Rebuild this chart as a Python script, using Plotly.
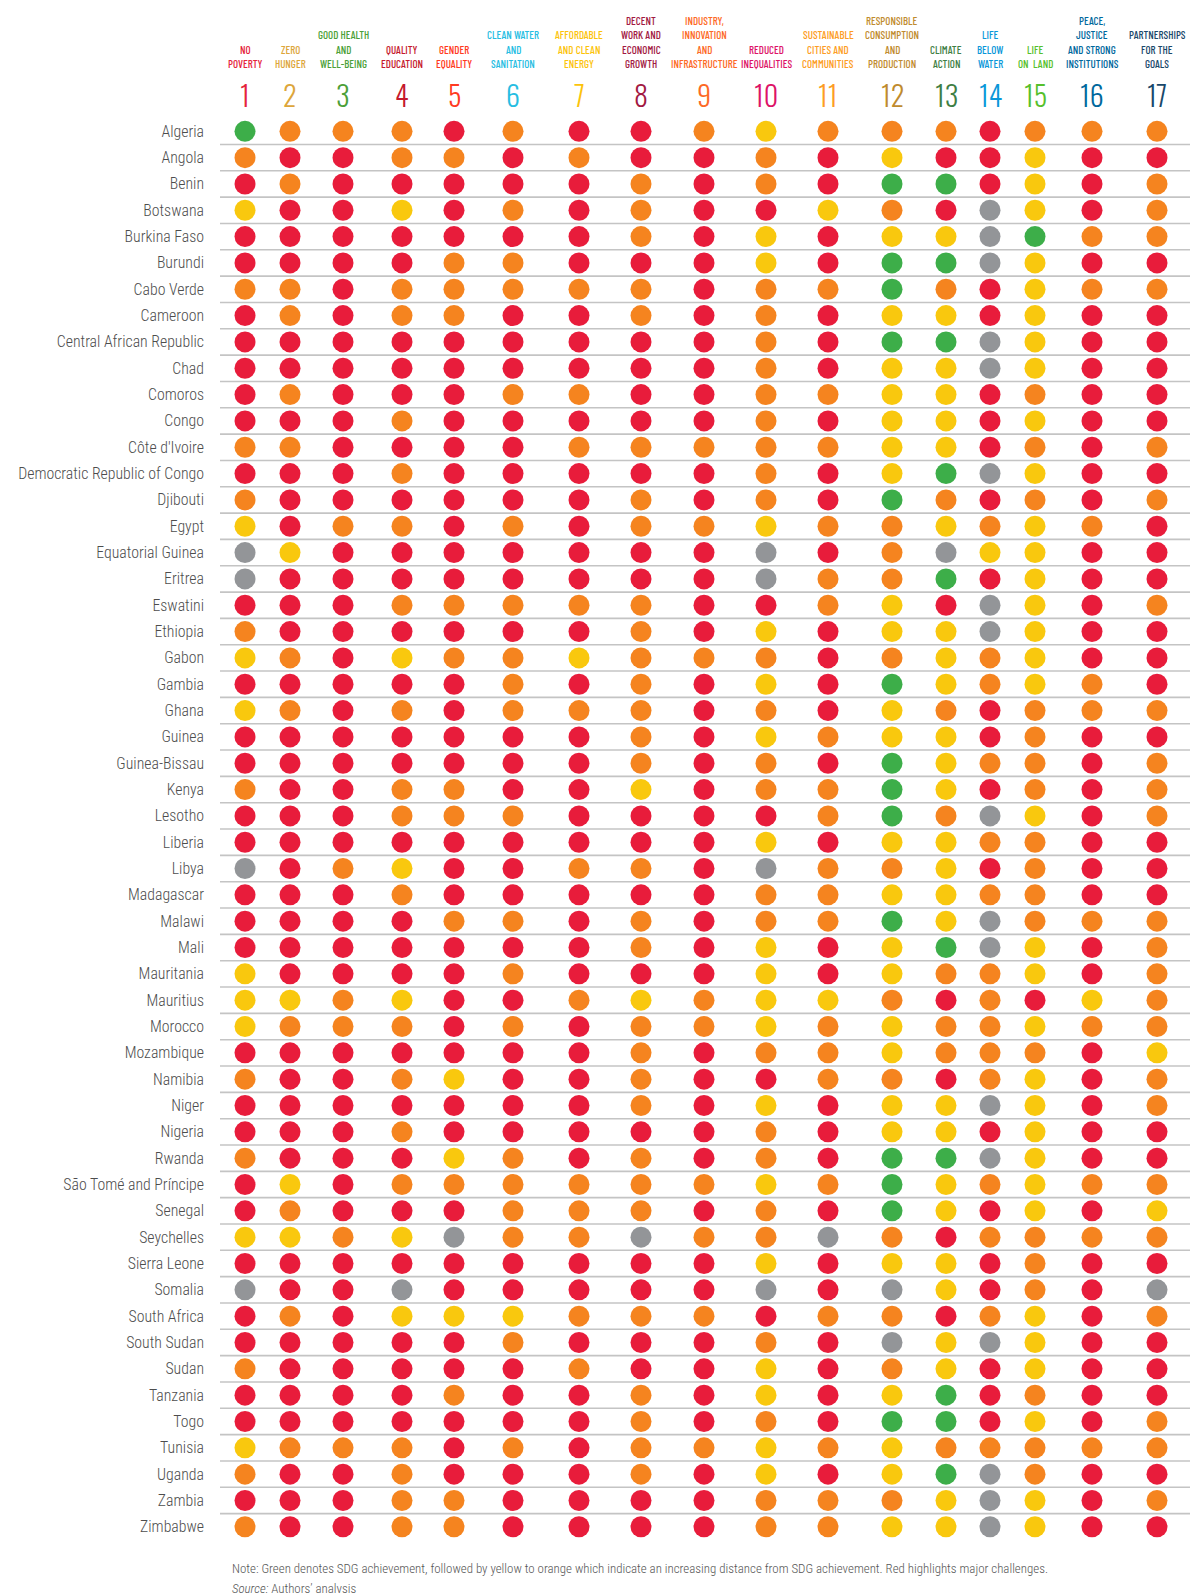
import plotly.graph_objects as go

# ---------------- data ----------------
COUNTRIES = [
    "Algeria", "Angola", "Benin", "Botswana", "Burkina Faso", "Burundi", "Cabo Verde",
    "Cameroon", "Central African Republic", "Chad", "Comoros", "Congo", "Côte d'Ivoire",
    "Democratic Republic of Congo", "Djibouti", "Egypt", "Equatorial Guinea", "Eritrea",
    "Eswatini", "Ethiopia", "Gabon", "Gambia", "Ghana", "Guinea", "Guinea-Bissau", "Kenya",
    "Lesotho", "Liberia", "Libya", "Madagascar", "Malawi", "Mali", "Mauritania", "Mauritius",
    "Morocco", "Mozambique", "Namibia", "Niger", "Nigeria", "Rwanda", "São Tomé and Príncipe",
    "Senegal", "Seychelles", "Sierra Leone", "Somalia", "South Africa", "South Sudan", "Sudan",
    "Tanzania", "Togo", "Tunisia", "Uganda", "Zambia", "Zimbabwe",
]

SDG_NUMBERS = [str(i) for i in range(1, 18)]

SDG_TITLES = [
    ["NO", "POVERTY"], ["ZERO", "HUNGER"], ["GOOD HEALTH", "AND", "WELL-BEING"],
    ["QUALITY", "EDUCATION"], ["GENDER", "EQUALITY"], ["CLEAN WATER", "AND", "SANITATION"],
    ["AFFORDABLE", "AND CLEAN", "ENERGY"], ["DECENT", "WORK AND", "ECONOMIC", "GROWTH"],
    ["INDUSTRY,", "INNOVATION", "AND", "INFRASTRUCTURE"], ["REDUCED", "INEQUALITIES"],
    ["SUSTAINABLE", "CITIES AND", "COMMUNITIES"], ["RESPONSIBLE", "CONSUMPTION", "AND", "PRODUCTION"],
    ["CLIMATE", "ACTION"], ["LIFE", "BELOW", "WATER"], ["LIFE", "ON  LAND"],
    ["PEACE,", "JUSTICE", "AND STRONG", "INSTITUTIONS"], ["PARTNERSHIPS", "FOR THE", "GOALS"],
]

# G = achieved, Y = yellow, O = orange, R = major challenges, N = no data (grey)
STATUS = [
    "GOOORORROYOOOROOO",  # Algeria
    "ORROORORRORYRRYRR",  # Angola
    "RORRRRRORORGGRYRO",  # Benin
    "YRRYRORORRYORNYRO",  # Botswana
    "RRRRRRRORYRYYNGOO",  # Burkina Faso
    "RRRROORRRYRGGNYRR",  # Burundi
    "OOROOOOOROOGORYOO",  # Cabo Verde
    "ROROORRORORYYRYRR",  # Cameroon
    "RRRRRRRRRORGGNYRR",  # Central African Republic
    "RRRRRRRRRORYYNYRR",  # Chad
    "RORRROORROOYYRORR",  # Comoros
    "RRRORRRRRORYYRYRR",  # Congo
    "OORRRROOOOOYYRORO",  # Cote d'Ivoire
    "RRRORRRRRORYGNYRR",  # Democratic Republic of Congo
    "ORRRRRRORORGORORO",  # Djibouti
    "YROOROROOYOOYOYOR",  # Egypt
    "NYRRRRRRRNRONYYRR",  # Equatorial Guinea
    "NRRRRRRRRNOOGRYRR",  # Eritrea
    "RRROOOOORROYRNYRO",  # Eswatini
    "ORRRRRRORYRYYNYRR",  # Ethiopia
    "YORYOOYOOOROYOYRR",  # Gabon
    "RRRRRORORYRGYOYOR",  # Gambia
    "YOROROOORORYOROOO",  # Ghana
    "RRRRRRRORYOYYRORR",  # Guinea
    "RRRRRRRORORGYOORO",  # Guinea-Bissau
    "ORROORRYROOGYRORO",  # Kenya
    "RRROOORRRROGONYRO",  # Lesotho
    "RRRRRRRRRYRYYOORR",  # Liberia
    "NROYRROORNOOYRORR",  # Libya
    "RRRORRRRROOYYOORR",  # Madagascar
    "RRRROOROROOGYNOOO",  # Malawi
    "RRRRRRRORYRYGNYRO",  # Mali
    "YRRRRORRRYRYOOYRO",  # Mauritania
    "YYOYRROYOYYORORYO",  # Mauritius
    "YOOOROROOYOYOOYOO",  # Morocco
    "RRRRRRRORO" "OYOOORY",  # Mozambique
    "ORROYRRORROOROYRO",  # Namibia
    "RRRRRRRORYRYYNYRO",  # Niger
    "RRRORRRRRORYYRYRR",  # Nigeria
    "ORRRYORORORGGNYRR",  # Rwanda
    "RYROOOOOOYOGYOYOO",  # Sao Tome and Principe
    "RORRROOORORGYRYRY",  # Senegal
    "YYOYNOONOONOROOOO",  # Seychelles
    "RRRRRRRRRYRYYRORR",  # Sierra Leone
    "NRRNRRRRRNRNYRORN",  # Somalia
    "RORYYYOOOROOROYRO",  # South Africa
    "RRRRRORRRORNYNYRR",  # South Sudan
    "ORRRRRORRYROYRYRR",  # Sudan
    "RRRRORRORYRYGRORR",  # Tanzania
    "RRRRRRRORORGGRYRO",  # Togo
    "YOOOROROOYOYOOOOO",  # Tunisia
    "ORRORRRORYRYGNORR",  # Uganda
    "RRROORRRROOOYNYRO",  # Zambia
    "ORROORRRROOYYNYRR",  # Zimbabwe
]

STATUS_ORDER = ["G", "Y", "O", "R", "N"]

# ---------------- styles / layout ----------------
W, H = 1190, 1593
COL_X = [245, 290, 343, 402, 454, 513, 579, 641, 704, 766, 828, 892, 946, 990, 1035, 1092, 1157]
ROW0_PX, ROW_STEP = 131.3, 26.33
LEFT = 205
HEADER_BOTTOM_PX, HEADER_LINE_PX = 63.3, 14.2
NUMBER_PX = 94.3

DOT_COLORS = {"G": "#3DAE49", "Y": "#F9C80E", "O": "#F5841F", "R": "#E81C3B", "N": "#939598"}
SDG_COLORS = ["#E5243B", "#DDA63A", "#4C9F38", "#C5192D", "#FF3A21", "#26BDE2", "#FCC30B",
              "#A21942", "#FD6925", "#DD1367", "#FD9D24", "#BF8B2E", "#3F7E44", "#0A97D9",
              "#56C02B", "#00689D", "#19486A"]
HEAD_FONT = "Barlow Condensed, Fira Sans Extra Condensed, Oswald, sans-serif"
NUM_FONT = "Oswald, Roboto Condensed, sans-serif"
BODY_FONT = "Roboto Condensed, Open Sans Condensed, sans-serif"


def py(px):
    return 1 - px / H


fig = go.Figure()

for code in STATUS_ORDER:
    xs, ys = [], []
    for i, row in enumerate(STATUS):
        for j, c in enumerate(row):
            if c == code:
                xs.append(COL_X[j])
                ys.append(i)
    fig.add_trace(go.Scatter(
        x=xs, y=ys, mode="markers",
        marker=dict(size=21, color=DOT_COLORS[code], line=dict(width=0)),
        showlegend=False, hoverinfo="skip",
    ))

shapes = []
for i in range(len(COUNTRIES) - 1):
    shapes.append(dict(type="line", xref="x", yref="y", x0=220, x1=W, y0=i + 0.5, y1=i + 0.5,
                       line=dict(color="#c4c4c4", width=1.6), layer="below"))

annotations = []
for j in range(17):
    lines = SDG_TITLES[j]
    for k, txt in enumerate(reversed(lines)):
        annotations.append(dict(
            x=COL_X[j], y=py(HEADER_BOTTOM_PX - k * HEADER_LINE_PX), xref="x", yref="paper",
            text=txt, showarrow=False, xanchor="center", yanchor="middle",
            font=dict(family=HEAD_FONT, size=11, color=SDG_COLORS[j], weight=500),
        ))
    annotations.append(dict(
        x=COL_X[j], y=py(NUMBER_PX), xref="x", yref="paper", text=SDG_NUMBERS[j],
        showarrow=False, xanchor="center", yanchor="middle",
        font=dict(family=NUM_FONT, size=28, color=SDG_COLORS[j], weight=300),
    ))

annotations.append(dict(
    x=230, y=py(1568), xref="x", yref="paper", xanchor="left", yanchor="middle", showarrow=False,
    text="Note: Green denotes SDG achievement, followed by yellow to orange which indicate an increasing distance from SDG achievement. Red highlights major challenges.",
    font=dict(family=BODY_FONT, size=12.9, color="#555555", weight=300),
))
annotations.append(dict(
    x=230, y=py(1588), xref="x", yref="paper", xanchor="left", yanchor="middle", showarrow=False,
    text="<i>Source:</i> Authors’ analysis",
    font=dict(family=BODY_FONT, size=12.9, color="#555555", weight=300),
))

n = len(COUNTRIES)
fig.update_layout(
    width=W, height=H,
    margin=dict(l=LEFT, r=0, t=0, b=0),
    paper_bgcolor="white", plot_bgcolor="white",
    xaxis=dict(range=[LEFT, W], visible=False, fixedrange=True),
    yaxis=dict(
        range=[(H - ROW0_PX) / ROW_STEP, -ROW0_PX / ROW_STEP],
        tickmode="array", tickvals=list(range(n)), ticktext=COUNTRIES,
        showgrid=False, zeroline=False, showline=False, ticks="",
        tickfont=dict(family=BODY_FONT, size=15.8, color="#4d4d4d", weight=300),
        fixedrange=True,
    ),
    shapes=shapes,
    annotations=annotations,
)

fig.write_html("out.html", post_script="document.body.style.margin='0';",
               config={"displayModeBar": False})
